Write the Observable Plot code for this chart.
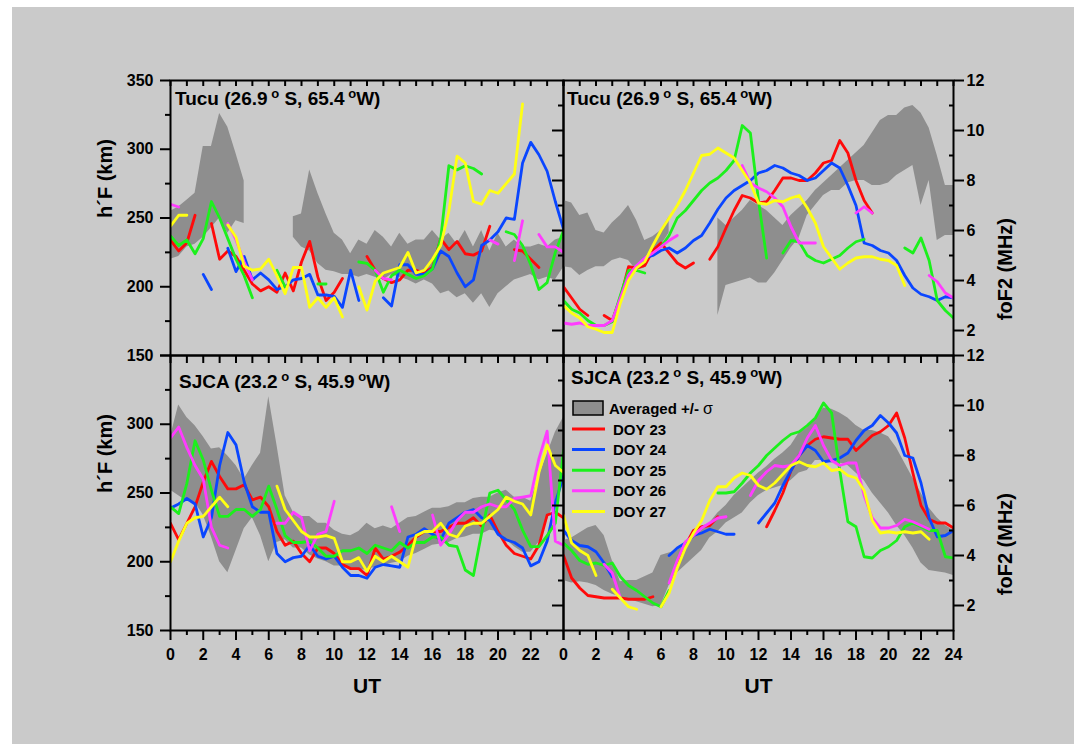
<!DOCTYPE html>
<html><head><meta charset="utf-8">
<script src="https://cdn.jsdelivr.net/npm/d3@7"></script>
<script src="https://cdn.jsdelivr.net/npm/@observablehq/plot@0.6"></script>
<style>
html,body{margin:0;padding:0;background:#fff;}
#fig{position:relative;width:1074px;height:744px;overflow:hidden;}
#bg{position:absolute;left:12px;top:7px;right:0;bottom:0;background:#cacaca;}
#fig svg{position:absolute;left:0;top:0;}
</style></head><body><div id="fig"><div id="bg"></div></div>
<script>
const FONT = "'Liberation Sans', Arial, Helvetica, sans-serif";
const UT = [0,0.5,1,1.5,2,2.5,3,3.5,4,4.5,5,5.5,6,6.5,7,7.5,8,8.5,9,9.5,10,10.5,11,11.5,12,12.5,13,13.5,14,14.5,15,15.5,16,16.5,17,17.5,18,18.5,19,19.5,20,20.5,21,21.5,22,22.5,23,23.5,24];
const DOY = ["DOY 23","DOY 24","DOY 25","DOY 26","DOY 27"];
const LINE_COLORS = ["#ff0a0a","#0a46ff","#1cf01c","#ff3cff","#ffff14"];
const BAND_COLOR = "#8e8e8e";
const BAND_LABEL = "Averaged +/- ";
const HF_LABEL = "h\u00b4F (km)";
const FOF2_LABEL = "foF2 (MHz)";
const UT_LABEL = "UT";
const STATIONS = {tucu: ["Tucu (26.9", " S, 65.4", "W)"], sjca: ["SJCA (23.2", " S, 45.9", "W)"]};
const HF_TICKS = [150,200,250,300,350], HF_MINOR = [175,225,275,325];
const FO_TICKS = [2,4,6,8,10,12], FO_MINOR = [3,5,7,9,11];
const UT_EVEN = [0,2,4,6,8,10,12,14,16,18,20,22,24], UT_ODD = [1,3,5,7,9,11,13,15,17,19,21,23];
const UT_ALL = [0,1,2,3,4,5,6,7,8,9,10,11,12,13,14,15,16,17,18,19,20,21,22,23,24];
const _ = null;

// ---- Tucu h'F ----
const tucuHF_lo = [220,222,229,231,236,243,250,239,248,246,_,_,_,_,_,236,229,226,217,212,211,209,209,207,209,207,205,209,207,205,202,205,202,195,197,192,195,188,195,185,195,200,205,207,209,205,207,205,214];
const tucuHF_hi = [255,258,263,268,302,302,326,316,297,277,_,_,_,_,_,251,253,285,268,253,239,234,224,234,231,241,236,229,239,231,234,234,241,234,239,231,241,229,241,226,239,229,234,229,229,231,229,234,236];
const tucuHF_23 = [234,226,232,252,_,246,220,226,222,212,202,197,200,196,210,197,218,233,207,190,196,206,_,_,222,212,206,203,205,212,212,210,214,235,227,233,224,223,226,244,_,_,227,226,220,214,_,_,_];
const tucuHF_24 = [_,_,_,_,209,198,_,228,211,222,205,210,205,198,200,205,206,209,194,194,193,185,212,190,_,_,192,186,216,216,209,209,213,226,222,210,200,205,230,234,240,250,249,290,305,296,284,262,242];
const tucuHF_25 = [237,230,234,224,235,262,250,235,220,208,192,_,_,212,200,_,_,_,202,202,_,_,_,218,217,212,196,208,212,209,206,208,213,235,288,285,288,286,282,_,_,240,238,230,216,198,203,225,241];
const tucuHF_26 = [260,258,_,_,_,_,_,246,234,218,205,_,_,_,_,_,_,_,_,_,_,_,_,_,_,212,206,205,_,_,_,_,_,_,_,_,_,_,_,234,231,_,219,248,_,238,229,229,225];
const tucuHF_27 = [244,252,252,_,_,_,_,245,236,215,212,213,220,208,195,214,214,185,192,185,192,178,_,200,183,204,210,212,214,225,210,212,220,230,255,295,290,262,260,270,268,275,282,333,_,_,_,_,_];

// ---- Tucu foF2 ----
const tucuFo_lo = [4.55,4.5,4.2,4.4,4.55,4.55,4.8,4.9,4.8,4.4,4.5,5.1,5.4,5.9,_,_,_,_,_,2.6,3.8,3.9,4.0,4.1,3.9,3.9,4.3,4.8,5.3,5.7,6.6,7.0,7.4,7.6,7.6,7.9,8.0,8.0,7.8,7.8,7.9,8.2,8.4,8.6,7.0,8.0,5.6,5.8,5.8];
const tucuFo_hi = [7.2,7.1,6.6,6.7,6.0,5.9,6.3,6.6,7.0,6.4,5.6,5.75,6.0,6.55,_,_,_,_,_,6.5,6.2,6.5,6.8,7.2,7.0,6.8,6.5,6.2,6.6,6.9,7.2,7.6,7.9,8.2,8.5,8.8,9.1,9.4,9.9,10.4,10.6,10.6,10.9,11.0,10.7,10.1,9.0,7.8,7.8];
const tucuFo_23 = [3.75,3.3,2.85,2.6,_,2.6,2.4,3.3,4.55,4.5,4.6,5.2,5.5,5.1,4.7,4.5,4.7,_,4.85,5.35,6.1,6.8,7.4,7.3,7.1,7.15,7.6,8.1,8.1,8.0,8.0,8.3,8.7,8.8,9.6,9.1,8.0,7.2,6.7,_,_,_,_,_,_,_,_,_,_];
const tucuFo_24 = [_,_,_,_,_,_,_,3.2,4.1,4.5,4.9,5.0,5.2,5.3,5.1,5.3,5.6,5.8,6.3,6.85,7.3,7.6,7.8,8.0,8.3,8.4,8.6,8.5,8.3,8.2,8.0,8.1,8.4,8.7,8.5,7.8,7.0,5.5,5.4,5.2,5.1,4.8,4.2,3.7,3.45,3.35,3.2,3.35,3.3];
const tucuFo_25 = [3.2,2.85,2.7,2.4,2.2,2.2,2.35,3.4,4.4,4.4,4.3,_,5.35,5.8,6.5,6.8,7.2,7.6,7.9,8.1,8.4,8.8,10.2,9.9,7.2,4.9,_,5.1,5.6,5.55,5.0,4.8,4.7,4.85,5.0,5.3,5.55,5.65,_,_,_,_,5.3,5.1,5.7,4.8,3.2,2.8,2.5];
const tucuFo_26 = [2.3,2.25,2.3,2.2,2.2,2.2,2.4,3.3,4.2,4.6,4.9,5.1,5.35,5.6,5.8,_,_,_,_,_,_,_,8.6,7.9,7.7,7.55,7.3,6.95,6.15,5.5,5.5,5.5,_,_,_,_,6.7,6.95,6.7,_,_,_,_,_,_,4.2,3.95,3.5,3.3];
const tucuFo_27 = [3.0,2.7,2.5,2.15,2.05,1.92,1.92,3.1,4.0,4.5,4.75,5.4,6.0,6.5,7.0,7.6,8.3,9.0,9.05,9.3,9.1,8.9,8.4,7.9,7.1,7.05,7.2,7.15,7.3,7.4,6.9,6.3,5.35,4.9,4.45,4.7,4.9,4.95,4.95,4.85,4.8,4.6,3.8,_,_,_,_,_,_];

// ---- SJCA h'F ----
const sjcaHF_lo = [252,248,244,243,234,218,200,192,208,224,232,219,200,214,216,210,210,205,202,200,197,197,194,194,194,196,197,199,200,204,206,209,212,213,214,217,218,220,220,223,222,216,211,207,207,214,230,244,262];
const sjcaHF_hi = [291,314,305,299,291,282,283,277,270,260,270,279,320,285,248,236,233,233,228,228,223,220,219,222,228,224,226,224,228,232,233,236,239,239,240,243,243,246,247,247,250,252,247,247,244,262,278,294,305];
const sjcaHF_23 = [228,216,228,240,258,273,262,253,253,256,245,247,240,222,212,215,206,200,210,210,206,198,195,195,190,210,202,204,207,212,218,222,222,222,225,228,228,232,226,234,222,212,206,204,202,212,234,236,232];
const sjcaHF_24 = [239,242,246,242,218,232,270,294,285,258,240,236,236,206,200,203,204,212,204,202,204,196,190,190,188,196,198,197,196,218,220,224,220,216,228,232,236,238,232,230,220,216,214,210,197,200,215,243,262];
const sjcaHF_25 = [240,235,257,288,274,252,233,233,238,238,233,238,255,238,219,214,214,215,210,204,204,208,208,210,206,212,210,208,214,210,214,214,218,218,212,211,194,190,221,250,252,245,238,223,211,211,219,228,281];
const sjcaHF_26 = [290,298,283,270,260,225,212,210,_,_,_,_,_,228,228,236,232,208,220,222,244,_,_,_,_,_,_,240,222,_,_,_,234,212,220,230,236,236,240,242,240,240,246,247,248,275,295,215,212];
const sjcaHF_27 = [200,215,228,232,233,240,247,240,_,_,_,_,_,255,238,230,222,218,218,219,217,200,200,203,193,204,200,204,200,196,219,222,222,228,220,218,226,228,228,233,238,247,244,242,234,265,285,270,265];

// ---- SJCA foF2 ----
const sjcaFo_lo = [3.0,2.9,2.95,2.9,2.8,2.6,2.45,2.35,2.25,2.15,2.05,1.95,2.0,2.8,3.3,3.6,3.9,4.2,4.7,4.95,5.3,5.5,5.7,6.1,6.4,6.6,6.7,6.8,7.0,7.3,7.4,7.8,7.8,7.7,7.7,7.6,7.3,7.0,6.5,6.1,5.7,5.2,4.8,4.3,3.7,3.4,3.35,3.3,3.2];
const sjcaFo_hi = [4.6,4.7,4.9,5.1,5.2,4.8,3.8,2.95,3.0,3.0,3.15,3.3,4.0,4.1,4.2,4.4,4.75,5.0,5.3,5.7,6.0,6.4,6.7,7.0,7.3,7.55,7.85,8.1,8.4,8.9,9.1,9.5,9.9,9.85,9.7,9.5,9.2,9.0,9.0,8.9,8.75,8.3,7.7,7.1,6.5,5.9,5.5,5.2,5.0];
const sjcaFo_23 = [4.0,3.1,2.7,2.4,2.35,2.3,2.3,2.3,2.25,2.25,2.25,2.35,_,_,3.7,4.4,5.0,5.15,5.2,5.55,_,_,_,_,_,5.15,5.8,6.5,7.4,8.0,8.4,8.65,8.75,8.7,8.65,8.65,8.2,8.5,8.8,8.95,9.2,9.7,8.7,7.3,6.0,5.45,5.3,5.3,5.1];
const sjcaFo_24 = [5.0,4.6,4.4,4.35,4.15,3.7,3.15,_,_,_,_,_,_,4.0,4.3,4.5,4.8,4.9,5.05,4.95,4.85,4.85,_,_,5.3,5.7,6.1,6.8,7.4,8.0,8.4,8.2,7.75,7.8,7.9,8.1,8.6,9.0,9.2,9.6,9.3,8.9,8.0,7.9,6.9,5.5,4.75,4.8,5.0];
const sjcaFo_25 = [4.5,4.2,3.8,3.65,3.7,3.6,3.7,3.15,2.8,2.6,2.35,2.1,1.95,2.6,_,_,_,_,_,6.5,6.5,6.55,6.9,7.3,7.6,8.0,8.3,8.6,8.85,8.95,9.2,9.5,10.1,9.7,7.4,5.35,5.15,3.95,3.9,4.2,4.35,4.6,5.15,5.3,5.15,5.0,5.0,3.95,3.9];
const sjcaFo_26 = [_,_,_,_,_,3.65,3.3,2.3,_,_,_,_,_,2.9,3.8,4.55,4.8,5.1,5.3,5.5,5.55,_,_,6.4,7.0,7.35,7.6,7.55,7.6,8.0,8.7,9.2,8.4,7.8,7.6,7.7,7.7,6.4,5.5,5.1,5.1,5.2,5.45,5.35,5.2,5.05,_,_,_];
const sjcaFo_27 = [5.6,4.5,4.2,4.0,3.2,_,2.65,2.3,1.95,1.85,_,_,1.95,2.5,3.5,4.3,4.9,5.4,6.2,6.75,6.75,7.1,7.3,7.2,6.8,6.65,6.9,7.25,7.6,7.75,7.6,7.55,7.7,7.4,7.45,7.2,7.1,6.6,5.4,4.9,4.95,4.9,4.95,4.9,4.95,4.65,_,_,_];

const fig = document.getElementById("fig");

function bandRows(lo, hi) { return UT.map((t, i) => ({t, lo: lo[i], hi: hi[i]})); }
function lineRows(arr) { return UT.map((t, i) => ({t, v: arr[i]})); }

function ax(kind, ticks, o) {
  const f = kind === "x" ? Plot.axisX : Plot.axisY;
  return f(ticks, {label: null, strokeWidth: 2, fontSize: 16, fontWeight: "bold", fill: "black", ...o});
}
const blank = () => "";

function panel({box, ydomain, lo, hi, series, axes, extra = []}) {
  const [l, t, r, b] = box;
  const svg = Plot.plot({
    width: 1074, height: 744,
    marginLeft: l, marginRight: 1074 - r, marginTop: t, marginBottom: 744 - b,
    x: {domain: [0, 24]},
    y: {domain: ydomain},
    style: {background: "none", fontFamily: FONT, fontWeight: "bold", color: "black", overflow: "visible"},
    marks: [
      Plot.areaY(bandRows(lo, hi), {x: "t", y1: "lo", y2: "hi", fill: BAND_COLOR, clip: true}),
      ...series.map((s, k) => Plot.line(lineRows(s), {x: "t", y: "v", stroke: LINE_COLORS[k], strokeWidth: 2.8, strokeLinejoin: "round", clip: true})),
      Plot.frame({stroke: "black", strokeWidth: 2}),
      ...axes,
      ...extra
    ]
  });
  fig.appendChild(svg);
  return svg;
}

function title(svg, x, y, parts) {
  const tx = d3.select(svg).append("text")
    .attr("x", x).attr("y", y).attr("text-anchor", "start")
    .attr("font-family", FONT).attr("font-weight", "bold").attr("font-size", 19).attr("fill", "black");
  tx.append("tspan").text(parts[0]);
  tx.append("tspan").attr("font-size", 13).attr("dy", -7).text(" o");
  tx.append("tspan").attr("font-size", 19).attr("dy", 7).text(parts[1]);
  tx.append("tspan").attr("font-size", 13).attr("dy", -7).text(" o");
  tx.append("tspan").attr("font-size", 19).attr("dy", 7).text(parts[2]);
}

const TL = [170, 80, 563, 355], TR = [563, 80, 953, 355], BL = [170, 355, 563, 630], BR = [563, 355, 953, 630];

const foRightAxes = () => [
  ax("y", FO_TICKS, {anchor: "right", tickSize: 10, tickPadding: 3}),
  ax("y", FO_MINOR, {anchor: "right", tickSize: -5, tickFormat: blank}),
  ax("y", [2,4,6,8,10], {anchor: "left", tickSize: 11, tickFormat: blank}),
  ax("y", FO_MINOR, {anchor: "left", tickSize: 5, tickFormat: blank})
];
const hfLabel = () => Plot.text([HF_LABEL], {frameAnchor: "left", dx: -65, rotate: -90, fontSize: 20, fontWeight: "bold", fill: "black"});
const foLabel = () => Plot.text([FOF2_LABEL], {frameAnchor: "right", dx: 52, rotate: -90, fontSize: 20, fontWeight: "bold", fill: "black"});
const utLabel = () => Plot.text([UT_LABEL], {frameAnchor: "bottom", dy: 62, fontSize: 21, fontWeight: "bold", fill: "black"});

// Top-left: Tucu h'F
const sTL = panel({
  box: TL, ydomain: [150, 350], lo: tucuHF_lo, hi: tucuHF_hi,
  series: [tucuHF_23, tucuHF_24, tucuHF_25, tucuHF_26, tucuHF_27],
  axes: [
    ax("y", HF_TICKS, {anchor: "left", tickSize: 10, tickPadding: 7}),
    ax("y", HF_MINOR, {anchor: "left", tickSize: 5, tickFormat: blank}),
    ax("x", UT_ALL, {anchor: "top", tickSize: -5, tickFormat: blank}),
    ax("x", UT_ALL, {anchor: "bottom", tickSize: 8, tickFormat: blank})
  ],
  extra: [hfLabel()]
});
title(sTL, 175, 105, STATIONS.tucu);

// Top-right: Tucu foF2
const sTR = panel({
  box: TR, ydomain: [1, 12], lo: tucuFo_lo, hi: tucuFo_hi,
  series: [tucuFo_23, tucuFo_24, tucuFo_25, tucuFo_26, tucuFo_27],
  axes: [
    ...foRightAxes(),
    ax("x", UT_ALL, {anchor: "top", tickSize: -5, tickFormat: blank}),
    ax("x", UT_ALL, {anchor: "bottom", tickSize: 8, tickFormat: blank})
  ],
  extra: [foLabel()]
});
title(sTR, 567, 105, STATIONS.tucu);

// Bottom-left: SJCA h'F
const sBL = panel({
  box: BL, ydomain: [150, 350], lo: sjcaHF_lo, hi: sjcaHF_hi,
  series: [sjcaHF_23, sjcaHF_24, sjcaHF_25, sjcaHF_26, sjcaHF_27],
  axes: [
    ax("y", [150,200,250,300], {anchor: "left", tickSize: 10, tickPadding: 7}),
    ax("y", [350], {anchor: "left", tickSize: 10, tickFormat: blank}),
    ax("y", HF_MINOR, {anchor: "left", tickSize: 5, tickFormat: blank}),
    ax("x", UT_EVEN, {anchor: "bottom", tickSize: 10, tickPadding: 8, tickFormat: d => d === 24 ? "" : String(d)}),
    ax("x", UT_ODD, {anchor: "bottom", tickSize: 5, tickFormat: blank})
  ],
  extra: [hfLabel(), utLabel()]
});
title(sBL, 179, 388, STATIONS.sjca);

// Bottom-right: SJCA foF2
const sBR = panel({
  box: BR, ydomain: [1, 12], lo: sjcaFo_lo, hi: sjcaFo_hi,
  series: [sjcaFo_23, sjcaFo_24, sjcaFo_25, sjcaFo_26, sjcaFo_27],
  axes: [
    ...foRightAxes(),
    ax("x", UT_EVEN, {anchor: "bottom", tickSize: 10, tickPadding: 8}),
    ax("x", UT_ODD, {anchor: "bottom", tickSize: 5, tickFormat: blank})
  ],
  extra: [foLabel(), utLabel()]
});
title(sBR, 571, 384, STATIONS.sjca);

// Legend (bottom-right panel)
const lg = d3.select(sBR).append("g").attr("font-family", FONT).attr("font-weight", "bold")
  .attr("font-size", 15).attr("fill", "black").attr("text-anchor", "start");
lg.append("rect").attr("x", 573).attr("y", 401).attr("width", 30).attr("height", 14)
  .attr("fill", BAND_COLOR).attr("stroke", "black").attr("stroke-width", 1.5);
const bt = lg.append("text").attr("x", 609).attr("y", 413.5);
bt.append("tspan").text(BAND_LABEL);
bt.append("tspan").attr("font-weight", "normal").attr("font-size", 16).text("\u03c3");
DOY.forEach((name, k) => {
  const y = 429 + k * 20.6;
  lg.append("line").attr("x1", 572).attr("x2", 605).attr("y1", y).attr("y2", y)
    .attr("stroke", LINE_COLORS[k]).attr("stroke-width", 3);
  lg.append("text").attr("x", 613).attr("y", y + 5.5).text(name);
});
</script>
</body></html>
